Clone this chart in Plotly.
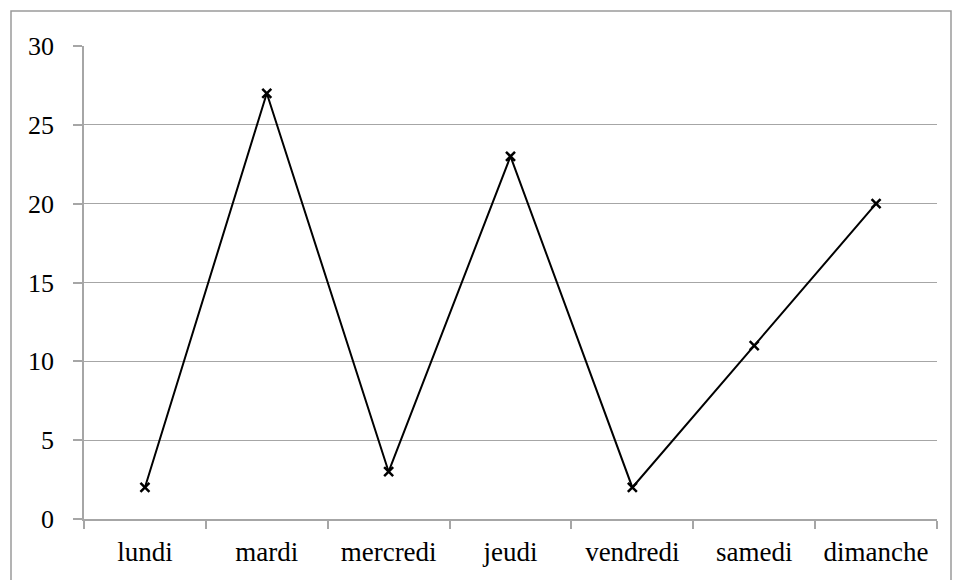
import plotly.graph_objects as go

days = ["lundi", "mardi", "mercredi", "jeudi", "vendredi", "samedi", "dimanche"]
values = [2, 27, 3, 23, 2, 11, 20]
y_ticks = [0, 5, 10, 15, 20, 25, 30]

L, R, T, B = 84, 25, 46, 61
W, H = 962, 580
pw, ph = W - L - R, H - T - B

fig = go.Figure(go.Scatter(
    x=days, y=values, mode="lines+markers",
    line=dict(color="black", width=2),
    marker=dict(symbol="x-thin", size=9, line=dict(color="black", width=2.5), color="black"),
))

grid = "#a6a6a6"
font = dict(family="Liberation Serif, DejaVu Serif, serif", size=26, color="black")
xfont = dict(family="Liberation Serif, DejaVu Serif, serif", size=27, color="black")
fig.update_layout(
    width=W, height=H,
    margin=dict(l=L, r=R, t=T, b=B, autoexpand=False),
    paper_bgcolor="white", plot_bgcolor="white",
    showlegend=False,
    font=font,
    xaxis=dict(range=[-0.5, len(days) - 0.5], showline=True, linecolor=grid, linewidth=1.5,
               ticks="outside", tickson="boundaries",
               ticklen=8, tickcolor=grid, tickwidth=1.5, showgrid=False, tickfont=xfont,
               ticklabelstandoff=8, automargin=False),
    yaxis=dict(range=[0, 30], tickvals=y_ticks, showline=True, linecolor=grid, linewidth=1.5,
               ticks="outside", ticklen=9, tickcolor=grid, tickwidth=1.5, showgrid=True,
               gridcolor=grid, gridwidth=1.3, zeroline=False, tickfont=font,
               ticklabelstandoff=14, automargin=False),
    shapes=[dict(type="rect", xref="paper", yref="paper",
                 x0=(11 - L) / pw, x1=(951 - L) / pw,
                 y0=-0.2, y1=1 + (T - 11) / ph,
                 line=dict(color="#9a9a9a", width=1.5), layer="below")],
)
fig.write_html("out.html", config={"displayModeBar": False})

with open("out.html", encoding="utf-8") as f:
    html = f.read()
html = html.replace("<head>", "<head><style>html,body{margin:0;padding:0;overflow:hidden;}</style>", 1)
with open("out.html", "w", encoding="utf-8") as f:
    f.write(html)
